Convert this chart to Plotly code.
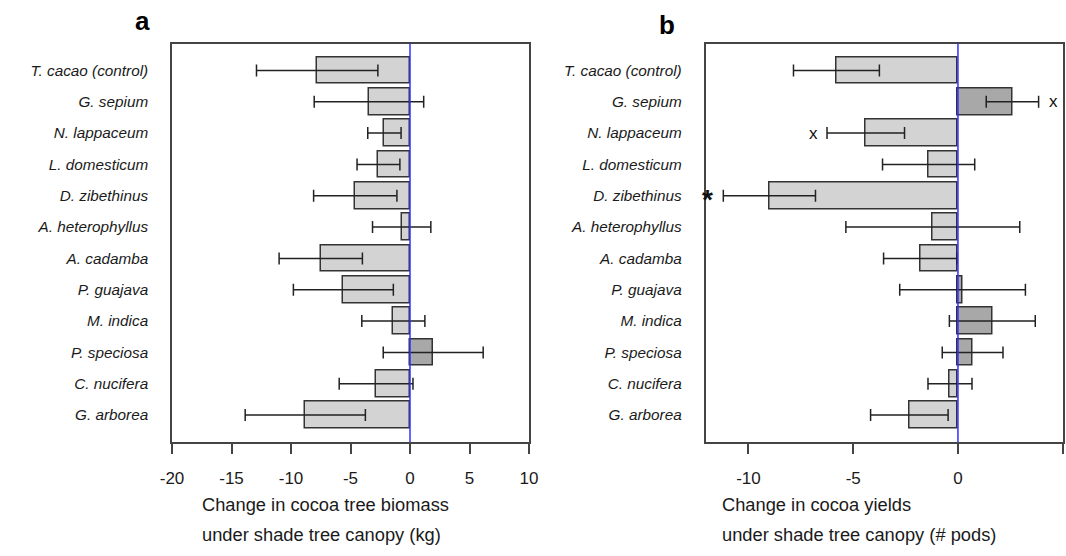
import plotly.graph_objects as go

W, H = 1066, 556

categories = ["T. cacao (control)", "G. sepium", "N. lappaceum", "L. domesticum",
              "D. zibethinus", "A. heterophyllus", "A. cadamba", "P. guajava",
              "M. indica", "P. speciosa", "C. nucifera", "G. arborea"]

biomass_mean = [-7.8, -3.45, -2.15, -2.65, -4.6, -0.7, -7.5, -5.6, -1.4, 1.95, -2.85, -8.8]
biomass_err = [5.1, 4.6, 1.4, 1.8, 3.5, 2.45, 3.5, 4.2, 2.65, 4.2, 3.1, 5.05]

pods_mean = [-5.8, 2.6, -4.4, -1.4, -9.0, -1.2, -1.8, 0.22, 1.64, 0.7, -0.38, -2.32]
pods_err = [2.05, 1.25, 1.85, 2.2, 2.2, 4.15, 1.75, 3.0, 2.05, 1.45, 1.05, 1.85]

biomass_ticks = [-20, -15, -10, -5, 0, 5, 10]
biomass_ticklabels = ["-20", "-15", "-10", "-5", "0", "5", "10"]
pods_ticks = [-10, -5, 0, 5]
pods_ticklabels = ["-10", "-5", "0", "5"]

LIGHT = "#d3d3d3"
DARK = "#a8a8a8"
EDGE = "#333333"
TXT = "#1a1a1a"
FONT = "Liberation Sans, Arial, sans-serif"


def px(x):
    return x / W


def py(y):
    return 1 - y / H


fig = go.Figure()

for means, errs, xa, ya in [(biomass_mean, biomass_err, "x", "y"),
                            (pods_mean, pods_err, "x2", "y2")]:
    fig.add_trace(go.Bar(
        x=means, y=categories, orientation="h", xaxis=xa, yaxis=ya,
        width=0.85,
        marker=dict(color=[DARK if v > 0 else LIGHT for v in means],
                    line=dict(color=EDGE, width=1.5)),
        error_x=dict(type="data", array=errs, visible=True,
                     color="#222222", thickness=1.5, width=6),
        showlegend=False, hoverinfo="skip",
    ))

ydom = [py(442), py(43.5)]
axis_common = dict(showline=True, linecolor="#444444", linewidth=1.5, mirror=True,
                   showgrid=False, zeroline=False, automargin=False)

fig.update_layout(
    width=W, height=H,
    margin=dict(l=0, r=0, t=0, b=0, autoexpand=False),
    paper_bgcolor="white", plot_bgcolor="white",
    font=dict(family=FONT, color=TXT),
    bargap=0,
    xaxis=dict(domain=[px(172), px(529)], range=[-20, 10], tickvals=biomass_ticks,
               ticktext=biomass_ticklabels,
               ticks="outside", ticklen=10, tickwidth=1.5, tickcolor="#444444",
               tickfont=dict(size=17, color=TXT), ticklabelstandoff=10,
               anchor="y", **axis_common),
    yaxis=dict(domain=ydom, type="category", categoryarray=categories,
               categoryorder="array", range=[11.86, -0.86], ticks="",
               tickfont=dict(size=15.3, color=TXT, style="italic"),
               ticklabelstandoff=19, anchor="x", **axis_common),
    xaxis2=dict(domain=[px(705.5), px(1062.7)], range=[-12.05, 5], tickvals=pods_ticks,
                ticktext=pods_ticklabels,
                ticks="outside", ticklen=10, tickwidth=1.5, tickcolor="#444444",
                tickfont=dict(size=17, color=TXT), ticklabelstandoff=10,
                anchor="y2", **axis_common),
    yaxis2=dict(domain=ydom, type="category", categoryarray=categories,
                categoryorder="array", range=[11.86, -0.86], ticks="",
                tickfont=dict(size=15.3, color=TXT, style="italic"),
                ticklabelstandoff=19, anchor="x2", **axis_common),
)

for xr in ["x", "x2"]:
    fig.add_shape(type="line", xref=xr, yref="paper", x0=0, x1=0,
                  y0=ydom[0], y1=ydom[1], line=dict(color="#3030ff", width=1.5),
                  layer="above")

anns = [
    dict(text="<b>a</b>", x=px(142), y=py(21), size=26),
    dict(text="<b>b</b>", x=px(667), y=py(25), size=26),
]
for a in anns:
    fig.add_annotation(text=a["text"], x=a["x"], y=a["y"], xref="paper", yref="paper",
                       showarrow=False, font=dict(size=a["size"], color="#000000"),
                       xanchor="center", yanchor="middle")

titles = [
    ("Change in cocoa tree biomass", 200, 504),
    ("under shade tree canopy (kg)", 200, 534),
    ("Change in cocoa yields", 720, 504),
    ("under shade tree canopy (# pods)", 720, 534),
]
for t, x, y in titles:
    fig.add_annotation(text=t, x=px(x), y=py(y), xref="paper", yref="paper",
                       showarrow=False, font=dict(size=18.3, color=TXT),
                       xanchor="left", yanchor="middle")

# significance markers on panel b
marks = [("x", 4.55, "G. sepium", 17, 0), ("x", -6.9, "N. lappaceum", 17, 0),
         ("<b>*</b>", -11.95, "D. zibethinus", 28, -4)]
for t, x, cat, s, ys in marks:
    fig.add_annotation(text=t, x=x, y=cat, xref="x2", yref="y2", showarrow=False,
                       font=dict(size=s, color="#111111"), xanchor="center",
                       yanchor="middle", yshift=ys)

fig.write_html("out.html")
